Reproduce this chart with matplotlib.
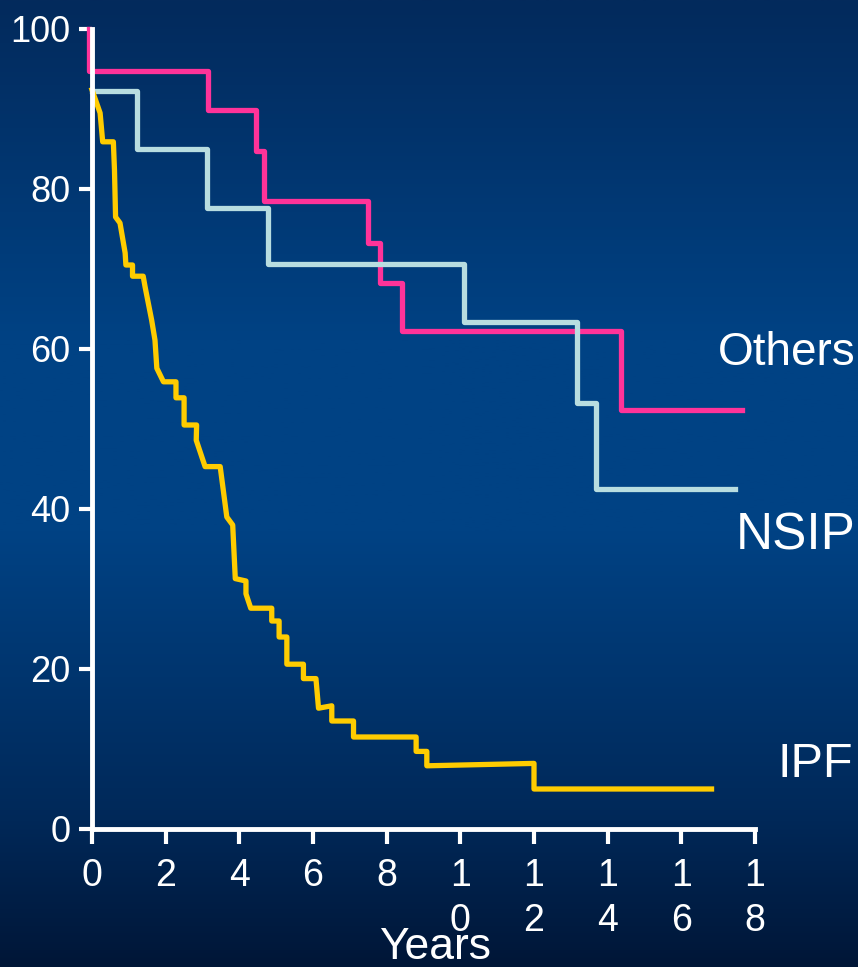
import numpy as np
import matplotlib
matplotlib.use("Agg")
from matplotlib import pyplot as plt

## Survival data
# Others (step curve)
others_t = [-0.08, -0.08, 3.15, 4.45, 4.67, 7.49, 7.83, 8.41, 14.35, 17.65]
others_s = [100, 94.7, 89.9, 84.7, 78.5, 73.3, 68.2, 62.2, 52.4, 52.4]

# NSIP (step curve)
nsip_t = [0, 1.23, 3.12, 4.78, 10.09, 13.17, 13.69, 17.47]
nsip_s = [92.2, 85.0, 77.6, 70.6, 63.4, 53.2, 42.5, 42.5]

# IPF (traced polyline)
ipf_x = [0, 0.22, 0.29, 0.58, 0.61, 0.64, 0.76, 0.9, 0.92, 1.1, 1.1, 1.39, 1.44,
         1.62, 1.71, 1.76, 1.94, 2.28, 2.28, 2.5, 2.5, 2.84, 2.83, 3.07, 3.48,
         3.66, 3.82, 3.89, 4.18, 4.18, 4.31, 4.88, 4.88, 5.08, 5.08, 5.29, 5.29,
         5.74, 5.74, 6.08, 6.15, 6.51, 6.51, 7.1, 7.1, 8.8, 8.8, 9.09, 9.09,
         12.0, 12.0, 16.82]
ipf_y = [92.4, 89.5, 85.9, 85.9, 82.4, 76.5, 75.75, 72, 70.5, 70.5, 69.1, 69.1, 67.8,
         63.6, 61.1, 57.6, 55.9, 55.9, 53.9, 53.9, 50.5, 50.5, 48.6, 45.3, 45.3,
         39, 38, 31.3, 31, 29.4, 27.6, 27.6, 26, 26, 24, 24, 20.6,
         20.6, 18.8, 18.8, 15.1, 15.4, 13.5, 13.5, 11.5, 11.5, 9.7, 9.7, 7.9,
         8.2, 5.0, 5.0]

x_ticks = list(range(0, 19, 2))
x_labels = ["\n".join(str(t)) for t in x_ticks]   # 10 -> "1\n0" as in the slide
y_ticks = [0, 20, 40, 60, 80, 100]

plt.rcParams['font.family'] = ['Liberation Sans', 'DejaVu Sans']

fig = plt.figure(figsize=(8.58, 9.67), dpi=100)

# Background gradient (dark navy -> lighter blue -> dark navy)
bg = fig.add_axes([0, 0, 1, 1])
stops = [0.0, 0.35, 0.55, 0.85, 1.0]
cols = np.array([[3, 42, 92], [0, 66, 132], [0, 66, 132], [0, 40, 88], [0, 22, 55]]) / 255
yy = np.linspace(0, 1, 400)
grad = np.stack([np.interp(yy, stops, cols[:, k]) for k in range(3)], axis=1)
bg.imshow(grad[:, None, :], aspect='auto', extent=[0, 1, 1, 0])
bg.set_axis_off()

ax = fig.add_axes([92 / 858, 138 / 967, 663 / 858, 800 / 967])
ax.patch.set_alpha(0)

lw = 3.8
ax.step(others_t, others_s, where='post', color='#ff3399', lw=lw, clip_on=False)
ax.step(nsip_t, nsip_s, where='post', color='#b8dde0', lw=lw, clip_on=False)
ax.plot(ipf_x, ipf_y, color='#ffcc00', lw=lw, clip_on=False)

ax.set_xlim(0, 18)
ax.set_ylim(0, 100)
for s in ['top', 'right']:
    ax.spines[s].set_visible(False)
for s in ['left', 'bottom']:
    ax.spines[s].set_color('white')
    ax.spines[s].set_linewidth(3.5)
    ax.spines[s].set_zorder(5)

ax.set_xticks(x_ticks)
ax.set_xticklabels(x_labels, linespacing=1.3, va='top')
ax.set_yticks(y_ticks)
ax.tick_params(axis='x', colors='white', length=11, width=3, pad=10, labelsize=27, direction='out')
ax.tick_params(axis='y', colors='white', length=9.5, width=3, pad=6, labelsize=26, direction='out')

# Curve names
ax.text(20.72, 58, "Others", color='white', fontsize=33, ha='right', va='baseline', clip_on=False)
ax.text(20.72, 34.9, "NSIP", color='white', fontsize=37, ha='right', va='baseline', clip_on=False)
ax.text(20.66, 6.5, "IPF", color='white', fontsize=35, ha='right', va='baseline', clip_on=False)

fig.text(435 / 858, 8 / 967, "Years", color='white', fontsize=32, ha='center', va='baseline')

fig.savefig("out.png", dpi=100)
